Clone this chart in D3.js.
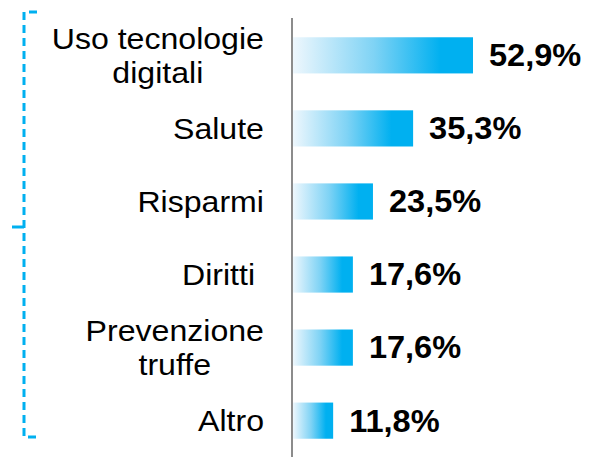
<!DOCTYPE html>
<html>
<head>
<meta charset="utf-8">
<script src="https://cdn.jsdelivr.net/npm/d3@7"></script>
<style>
  body { margin: 0; background: #fff; }
  svg { display: block; font-family: Arial, "Liberation Sans", sans-serif; }
</style>
</head>
<body>
<div class="vizHolder"></div>
<script>
var width = 603,
    height = 461;

// data
var categories = [["Uso tecnologie", "digitali"], ["Salute"], ["Risparmi"], ["Diritti "], ["Prevenzione", "truffe"], ["Altro"]];
var values = [52.9, 35.3, 23.5, 17.6, 17.6, 11.8];
var valueLabels = ["52,9%", "35,3%", "23,5%", "17,6%", "17,6%", "11,8%"];

var svg = d3.select('.vizHolder')
            .append('svg')
            .attr('width', width)
            .attr('height', height);

var defs = svg.append('defs');
var grad = defs.append('linearGradient')
               .attr('id', 'barGrad')
               .attr('x1', '0%').attr('x2', '100%')
               .attr('y1', '0%').attr('y2', '0%');
grad.append('stop').attr('offset', '0%').attr('stop-color', '#eef7fd');
grad.append('stop').attr('offset', '45%').attr('stop-color', '#7fd3f5');
grad.append('stop').attr('offset', '82%').attr('stop-color', '#00b0f0');
grad.append('stop').attr('offset', '100%').attr('stop-color', '#00b0f0');

var x0 = 293;
var xScale = d3.scaleLinear()
               .domain([0, 52.9])
               .range([x0, 473]);

var yScale = d3.scaleBand()
               .domain(d3.range(values.length))
               .range([19, 457])
               .paddingInner(0.505)
               .paddingOuter(0.25);

// bars
svg.selectAll('rect.bar')
   .data(values)
   .enter()
   .append('rect')
   .attr('class', 'bar')
   .attr('x', x0)
   .attr('y', function(d, i){ return yScale(i); })
   .attr('width', function(d){ return xScale(d) - x0; })
   .attr('height', yScale.bandwidth())
   .attr('fill', 'url(#barGrad)');

// axis line
svg.append('line')
   .attr('x1', 292).attr('x2', 292)
   .attr('y1', 18).attr('y2', 457)
   .attr('stroke', '#8c8c8c')
   .attr('stroke-width', 2);

// value labels (slightly wide, like the original)
svg.selectAll('text.val')
   .data(values)
   .enter()
   .append('text')
   .attr('class', 'val')
   .attr('transform', function(d, i){
       return 'translate(' + (xScale(d) + 16) + ',' + (yScale(i) + yScale.bandwidth() / 2) + ') scale(1.05,1)';
   })
   .attr('dy', '0.35em')
   .attr('font-size', 31)
   .attr('font-weight', 'bold')
   .attr('fill', '#000')
   .text(function(d, i){ return valueLabels[i]; });

// category labels: block right-aligned, lines centered
var labelRight = 264;
var stretch = 1.07;
var cats = svg.selectAll('g.cat')
   .data(categories)
   .enter()
   .append('g')
   .attr('class', 'cat');

cats.each(function(lines, i){
    var cy = yScale(i) + yScale.bandwidth() / 2;
    var lh = 34;
    var start = cy - (lines.length - 1) * lh / 2;
    var t = d3.select(this).append('text')
      .attr('font-size', 30)
      .attr('fill', '#000')
      .attr('text-anchor', 'middle')
      .style('white-space', 'pre');
    t.selectAll('tspan')
      .data(lines)
      .enter()
      .append('tspan')
      .attr('x', 0)
      .attr('y', function(l, j){ return start + j * lh; })
      .attr('dy', '0.35em')
      .text(function(l){ return l; });
    var maxW = d3.max(t.selectAll('tspan').nodes(), function(n){ return n.getComputedTextLength(); }) * stretch;
    t.attr('transform', 'translate(' + (labelRight - maxW / 2) + ',0) scale(' + stretch + ',1)');
});

// dashed bracket
var bracket = d3.path();
bracket.moveTo(37, 12);
bracket.lineTo(24, 12);
bracket.lineTo(24, 437);
bracket.lineTo(37, 437);
svg.append('path')
   .attr('d', bracket.toString())
   .attr('fill', 'none')
   .attr('stroke', '#00b0f0')
   .attr('stroke-width', 3)
   .attr('stroke-dasharray', '8,5');

svg.append('line')
   .attr('x1', 12).attr('x2', 24)
   .attr('y1', 227).attr('y2', 227)
   .attr('stroke', '#00b0f0')
   .attr('stroke-width', 3);
</script>
</body>
</html>
